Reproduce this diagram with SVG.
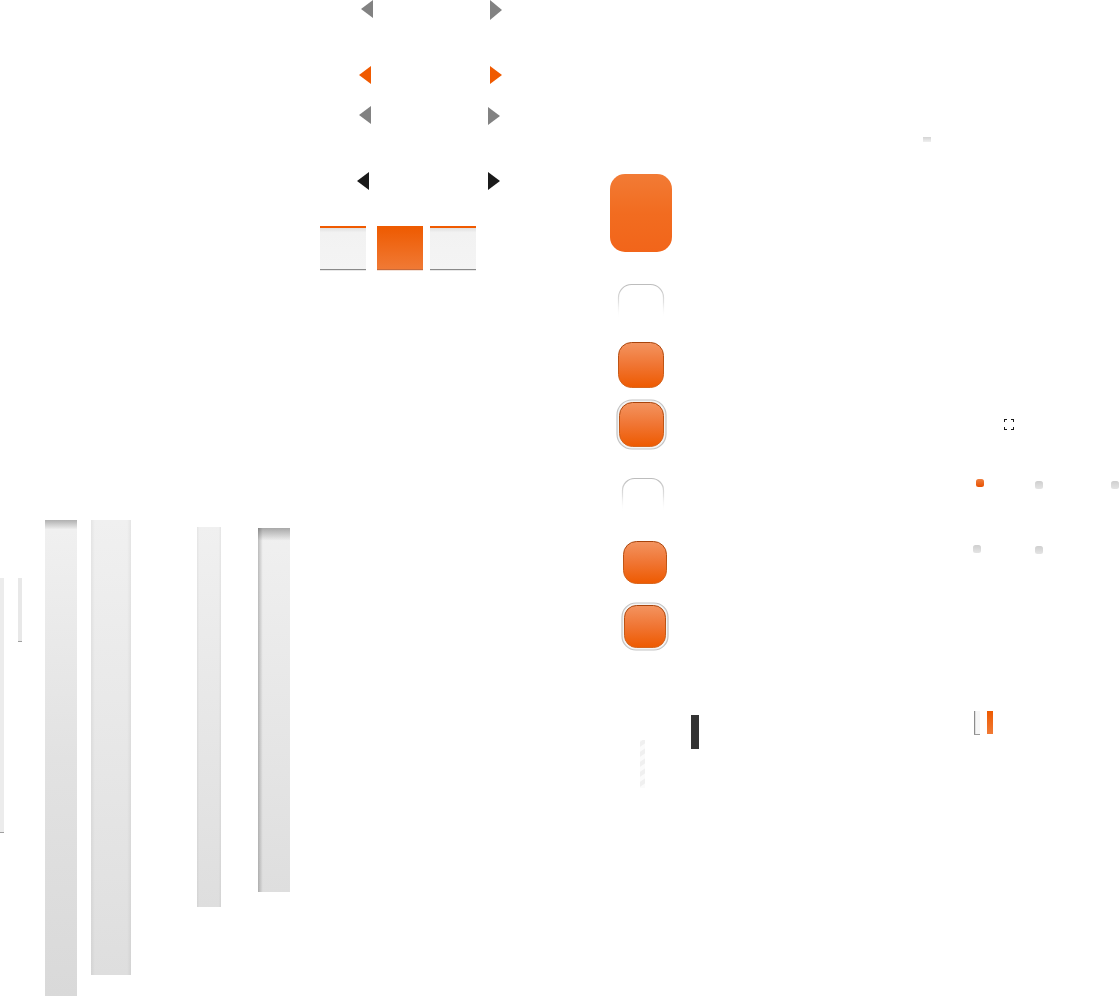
<svg xmlns="http://www.w3.org/2000/svg" width="1119" height="996" viewBox="0 0 1119 996">
<style>
.gray{fill:#828282}
.orange{fill:#f05a00}
.black{fill:#1a1a1a}
.tabw{fill:url(#tabGray)}
.btnO{fill:url(#btnOrange);stroke:url(#btnStroke);stroke-width:1}
.ring{fill:#f4f4f4;stroke:#c4c4c4;stroke-width:1.2}
.outline{fill:none;stroke:url(#fadeStroke);stroke-width:1.2}
.dotg{fill:url(#dotGray)}
</style>
<defs>
<linearGradient id="tabGray" x1="0" y1="0" x2="0" y2="1">
<stop offset="0" stop-color="#d8d8d8"/><stop offset="0.15" stop-color="#f2f2f2"/><stop offset="1" stop-color="#f4f4f4"/>
</linearGradient>
<linearGradient id="tabOrange" x1="0" y1="0" x2="0" y2="1">
<stop offset="0" stop-color="#ee5a00"/><stop offset="1" stop-color="#f07a36"/>
</linearGradient>
<linearGradient id="bigOrange" x1="0" y1="0" x2="0" y2="1">
<stop offset="0" stop-color="#f27b35"/><stop offset="0.5" stop-color="#f26c20"/><stop offset="1" stop-color="#f2651a"/>
</linearGradient>
<linearGradient id="btnOrange" x1="0" y1="0" x2="0" y2="1">
<stop offset="0" stop-color="#f39460"/><stop offset="0.5" stop-color="#f07533"/><stop offset="1" stop-color="#ee5a00"/>
</linearGradient>
<linearGradient id="btnStroke" x1="0" y1="0" x2="0" y2="1">
<stop offset="0" stop-color="#a8440c"/><stop offset="1" stop-color="#d8661e"/>
</linearGradient>
<linearGradient id="fadeStroke" x1="0" y1="0" x2="0" y2="1">
<stop offset="0" stop-color="#bdbdbd"/><stop offset="0.4" stop-color="#e2e2e2"/><stop offset="0.75" stop-color="#ffffff" stop-opacity="0"/>
</linearGradient>
<linearGradient id="dotGray" x1="0" y1="0" x2="0" y2="1">
<stop offset="0" stop-color="#cfcfcf"/><stop offset="1" stop-color="#e4e4e4"/>
</linearGradient>
<linearGradient id="dotOrange" x1="0" y1="0" x2="0" y2="1">
<stop offset="0" stop-color="#f08040"/><stop offset="1" stop-color="#e85000"/>
</linearGradient>
<linearGradient id="barShadowTop" x1="0" y1="0" x2="0" y2="1">
<stop offset="0" stop-color="#b0b0b0"/><stop offset="0.02" stop-color="#f0f0f0"/><stop offset="0.5" stop-color="#e2e2e2"/><stop offset="1" stop-color="#d9d9d9"/>
</linearGradient>
<linearGradient id="barLight" x1="0" y1="0" x2="0" y2="1">
<stop offset="0" stop-color="#f0f0f0"/><stop offset="1" stop-color="#dedede"/>
</linearGradient>
<linearGradient id="barSide" x1="0" y1="0" x2="1" y2="0">
<stop offset="0" stop-color="#000" stop-opacity="0.05"/><stop offset="0.1" stop-color="#000" stop-opacity="0"/><stop offset="0.9" stop-color="#000" stop-opacity="0"/><stop offset="1" stop-color="#000" stop-opacity="0.05"/>
</linearGradient>
<linearGradient id="barInsetLeft" x1="0" y1="0" x2="1" y2="0">
<stop offset="0" stop-color="#000" stop-opacity="0.22"/><stop offset="0.15" stop-color="#000" stop-opacity="0"/>
</linearGradient>
<linearGradient id="barInsetTop" x1="0" y1="0" x2="0" y2="1">
<stop offset="0" stop-color="#000" stop-opacity="0.3"/><stop offset="0.035" stop-color="#000" stop-opacity="0"/>
</linearGradient>
<linearGradient id="smallGray" x1="0" y1="0" x2="0" y2="1">
<stop offset="0" stop-color="#d4d4d4"/><stop offset="1" stop-color="#f0f0f0"/>
</linearGradient>
<pattern id="stripes" width="6" height="10" patternUnits="userSpaceOnUse" patternTransform="skewY(-35)">
<rect width="6" height="10" fill="#fbfbfb"/><rect width="6" height="5" fill="#f0f0f0"/>
</pattern>
</defs>

<g id="arrows">
<polygon class="gray" points="373,0 373,18 361,9"/>
<polygon class="gray" points="490,0 490,20 502,10"/>
<polygon class="orange" points="371,66 371,84 359,75"/>
<polygon class="orange" points="490,66 490,84 502,75"/>
<polygon class="gray" points="371,106 371,124 359,115"/>
<polygon class="gray" points="488,107 488,125 500,116"/>
<polygon class="black" points="369,172 369,190 357,181"/>
<polygon class="black" points="488,172 488,190 500,181"/>
</g>

<g id="tabs">
<rect class="tabw" x="320" y="226" width="46" height="44"/>
<rect x="320" y="226" width="46" height="2" fill="#f05a00"/>
<rect x="320" y="269" width="46" height="1.2" fill="#8a8a8a"/>
<rect x="377" y="226" width="46" height="44" fill="url(#tabOrange)"/>
<rect x="377" y="269" width="46" height="1.2" fill="#c86a3a"/>
<rect class="tabw" x="430" y="226" width="46" height="44"/>
<rect x="430" y="226" width="46" height="2" fill="#f05a00"/>
<rect x="430" y="269" width="46" height="1.2" fill="#8a8a8a"/>
</g>

<g id="buttons">
<rect x="610" y="174" width="62" height="78" rx="15" fill="url(#bigOrange)"/>
<rect class="outline" x="618.5" y="284.5" width="45" height="45" rx="13"/>
<rect class="btnO" x="618.5" y="342.5" width="45" height="45" rx="13"/>
<rect class="ring" x="617" y="400" width="49" height="49" rx="15"/>
<rect class="btnO" x="619.5" y="402.5" width="44" height="44" rx="13"/>
<rect class="outline" x="622.5" y="478.5" width="41" height="44" rx="12"/>
<rect class="btnO" x="623.5" y="541.5" width="43" height="42" rx="13"/>
<rect class="ring" x="622" y="603" width="46" height="47" rx="14"/>
<rect class="btnO" x="624.5" y="605.5" width="41" height="42" rx="12"/>
</g>

<g id="misc">
<rect x="691" y="715" width="8" height="34" fill="#333333"/>
<rect x="640" y="740" width="5" height="48" fill="url(#stripes)"/>
<rect x="923" y="137" width="8" height="5" fill="url(#smallGray)"/>
<g fill="#1a1a1a">
<rect x="1004" y="419" width="3" height="1"/><rect x="1004" y="419" width="1" height="3"/>
<rect x="1011" y="419" width="3" height="1"/><rect x="1013" y="419" width="1" height="3"/>
<rect x="1004" y="429" width="3" height="1"/><rect x="1004" y="427" width="1" height="3"/>
<rect x="1011" y="429" width="3" height="1"/><rect x="1013" y="427" width="1" height="3"/>
</g>
<rect x="976" y="479" width="8" height="8" rx="2.5" fill="url(#dotOrange)"/>
<rect class="dotg" x="1035" y="481" width="8" height="8" rx="2.5"/>
<rect class="dotg" x="1111" y="481" width="8" height="8" rx="2.5"/>
<rect class="dotg" x="973" y="545" width="8" height="8" rx="2.5"/>
<rect class="dotg" x="1035" y="546" width="8" height="8" rx="2.5"/>
<rect x="974" y="711" width="6" height="24" fill="#f6f6f6"/>
<rect x="974" y="711" width="1.2" height="24" fill="#8c8c8c"/>
<rect x="974" y="734" width="6" height="1" fill="#9a9a9a"/>
<rect x="987" y="711" width="6" height="23" fill="url(#tabOrange)"/>
</g>

<g id="bars">
<rect x="0" y="578" width="4" height="255" fill="#ececec"/>
<rect x="0" y="832" width="4" height="1" fill="#a0a0a0"/>
<rect x="18" y="578" width="4" height="64" fill="#e8e8e8"/>
<rect x="18" y="641" width="4" height="1" fill="#a0a0a0"/>
<rect x="45" y="520" width="32" height="476" fill="url(#barShadowTop)"/>
<rect x="91" y="520" width="40" height="455" fill="url(#barLight)"/>
<rect x="91" y="520" width="40" height="455" fill="url(#barSide)"/>
<rect x="197" y="527" width="24" height="380" fill="url(#barLight)"/>
<rect x="197" y="527" width="24" height="380" fill="url(#barSide)"/>
<rect x="258" y="528" width="32" height="364" fill="url(#barLight)"/>
<rect x="258" y="528" width="32" height="364" fill="url(#barInsetLeft)"/>
<rect x="258" y="528" width="32" height="364" fill="url(#barInsetTop)"/>
</g>
</svg>
